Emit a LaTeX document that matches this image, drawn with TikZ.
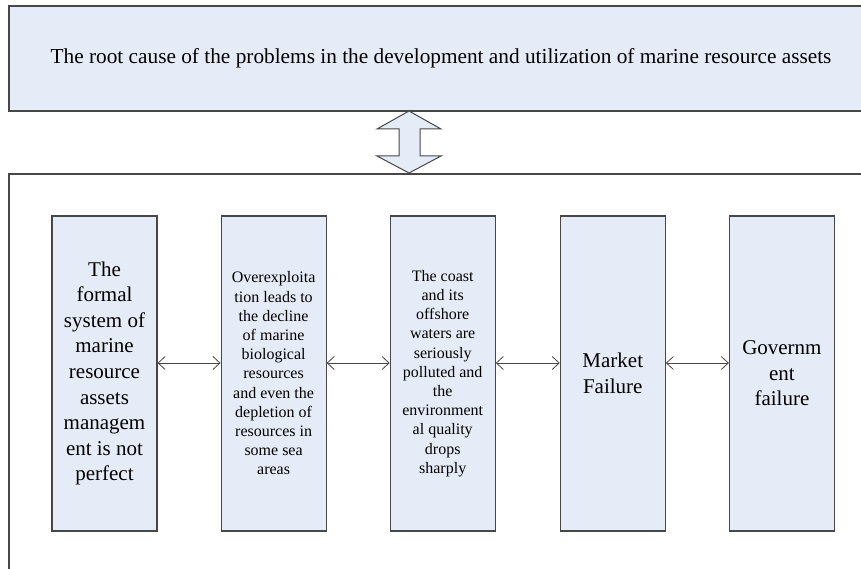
\documentclass[tikz,border=0pt]{standalone}
\usepackage{fontspec}
\setmainfont{Liberation Serif}
\usetikzlibrary{arrows.meta,positioning}
\definecolor{boxfill}{HTML}{E6ECF7}
\definecolor{edge}{HTML}{474747}
\tikzset{
  cbox/.style={draw=edge,line width=1.1pt,fill=boxfill,align=center,minimum width=105pt,minimum height=315pt,inner sep=0pt},
  bigtxt/.style={font=\fontsize{21}{25.6}\selectfont},
  smalltxt/.style={font=\fontsize{16}{19.2}\selectfont},
  ar/.style={{Straight Barb[length=7pt,width=13pt]}-{Straight Barb[length=7pt,width=13pt]},edge,line width=0.8pt}
}
\begin{document}
\begin{tikzpicture}[x=1pt,y=-1pt]
\useasboundingbox (0,0) rectangle (861,569);
\clip (0,0) rectangle (861,569);
% top box
\node[cbox,minimum width=864pt,minimum height=105pt,font=\fontsize{21.3}{24}\selectfont] (root) at (441,58.5)
  {The root cause of the problems in the development and utilization of marine resource assets};
% open frame round the causes
\draw[edge,line width=1.1pt] (880,174) -| (9,590);
% double arrow
\draw[edge,line width=1pt,fill=boxfill] (409,111) -- (441,129) -- (420,129) -- (420,156) -- (441,156)
  -- (409,173) -- (377,156) -- (399,156) -- (399,129) -- (377,129) -- cycle;
% the five causes
\node[cbox,bigtxt] (sys) at (104.5,373.5) {The\\formal\\system of\\marine\\resource\\assets\\managem\\ent is not\\perfect};
\node[cbox,smalltxt,right=63pt of sys] (over) {Overexploita\\tion leads to\\the decline\\of marine\\biological\\resources\\and even the\\depletion of\\resources in\\some sea\\areas};
\node[cbox,smalltxt,right=63pt of over] (coast) {The coast\\and its\\offshore\\waters are\\seriously\\polluted and\\the\\environment\\al quality\\drops\\sharply};
\node[cbox,bigtxt,right=64pt of coast] (mkt) {Market\\Failure};
\node[cbox,bigtxt,right=63pt of mkt] (gov) {Governm\\ent\\failure};
\foreach \a/\b in {sys/over,over/coast,coast/mkt,mkt/gov}
  \draw[ar] ([yshift=10.5pt]\a.east) -- ([yshift=10.5pt]\b.west);
\end{tikzpicture}
\end{document}
